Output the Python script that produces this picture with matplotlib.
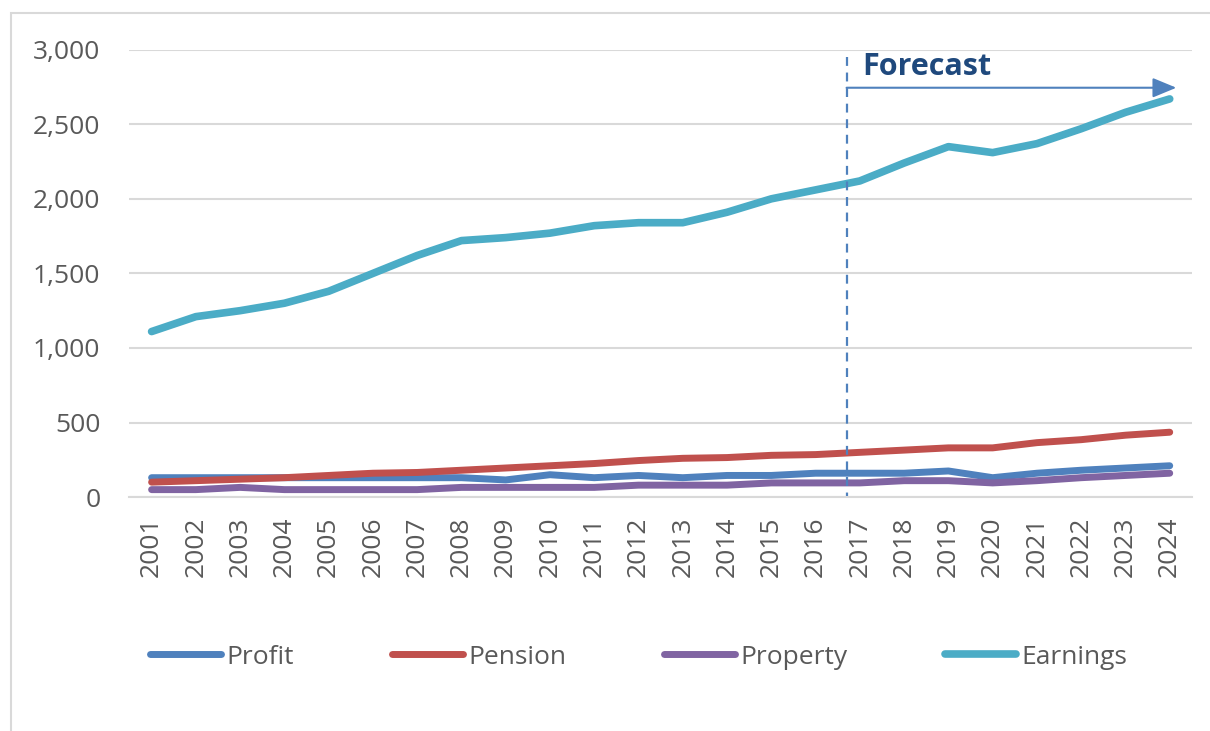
import matplotlib.pyplot as plt
from matplotlib.patches import Rectangle

years = list(range(2001, 2025))
profit = [130, 130, 130, 130, 130, 130, 130, 130, 115, 150, 130, 145, 130, 145, 145, 160,
          160, 160, 175, 130, 160, 180, 195, 210]
pension = [100, 110, 120, 130, 145, 160, 165, 180, 195, 210, 225, 245, 260, 265, 280, 285,
           300, 315, 330, 330, 365, 385, 415, 435]
property_ = [50, 50, 65, 50, 50, 50, 50, 65, 65, 65, 65, 80, 80, 80, 95, 95,
             95, 110, 110, 95, 110, 130, 145, 160]
earnings = [1110, 1210, 1250, 1300, 1380, 1500, 1620, 1720, 1740, 1770, 1820, 1840, 1840, 1910,
            2000, 2060, 2120, 2240, 2350, 2310, 2370, 2470, 2580, 2670]

plt.rcParams['font.family'] = ['Open Sans', 'DejaVu Sans']

fig = plt.figure(figsize=(12.1, 7.31), dpi=100)
ax = fig.add_axes([0.107, 0.320, 0.878, 0.612])

# chart border
fig.patches.append(Rectangle((0.0095, -0.01), 1.0, 0.9925, transform=fig.transFigure,
                             fill=False, edgecolor='#d9d9d9', linewidth=1.5))

ax.plot(years, profit, color='#4F81BD', lw=5, solid_capstyle='round', label='Profit')
ax.plot(years, pension, color='#C0504D', lw=5, solid_capstyle='round', label='Pension')
ax.plot(years, property_, color='#8064A2', lw=5, solid_capstyle='round', label='Property')
ax.plot(years, earnings, color='#4BACC6', lw=5.5, solid_capstyle='round', label='Earnings')

ax.set_xlim(2000.5, 2024.5)
ax.set_ylim(0, 3000)
ax.set_yticks(range(0, 3001, 500))
ax.set_yticklabels([f'{v:,}' for v in range(0, 3001, 500)])
ax.set_xticks(years)
ax.set_xticklabels([str(y) for y in years], rotation=90)
ax.tick_params(axis='both', labelsize=19, colors='#595959', length=0)
ax.tick_params(axis='y', pad=21)
ax.tick_params(axis='x', pad=14)
ax.grid(axis='y', color='#d9d9d9', lw=1.5)
ax.set_axisbelow(True)
for s in ['top', 'right', 'left']:
    ax.spines[s].set_visible(False)
ax.spines['bottom'].set_color('#d9d9d9')
ax.spines['bottom'].set_linewidth(1.5)

# forecast marker
ax.plot([2016.7, 2016.7], [2950, 0], ls=(0, (4, 3)), color='#4F81BD', lw=1.6, clip_on=False)
ax.annotate('', xy=(2024.15, 2745), xytext=(2016.7, 2745), annotation_clip=False,
            arrowprops=dict(arrowstyle='-|>,head_length=1.45,head_width=0.6', color='#4F81BD',
                            lw=1.5, shrinkA=0, shrinkB=0))
ax.text(2017.05, 2885, 'Forecast', fontsize=22, fontweight='bold', color='#1F497D',
        va='center', ha='left')

fig.legend(loc='center', bbox_to_anchor=(0.528, 0.101), ncol=4, frameon=False, fontsize=19,
           handlelength=2.7, handletextpad=0.2, columnspacing=3.7, labelcolor='#595959')

fig.savefig('out.png', dpi=100)
